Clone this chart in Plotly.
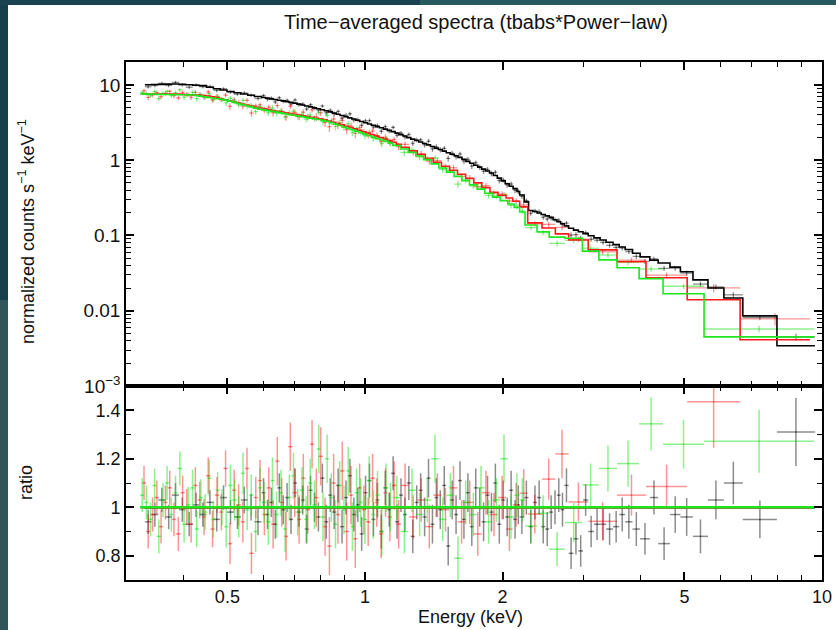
import numpy as np
import plotly.graph_objects as go

# ---------------- data ----------------
# black data group: bin edges (keV), model (counts/s/keV), data/model ratio, ratio error
edges_black = [0.330, 0.341, 0.353, 0.366, 0.378, 0.392, 0.405, 0.420, 0.434, 0.450,
               0.466, 0.482, 0.499, 0.517, 0.535, 0.554, 0.573,
               0.594, 0.606, 0.618, 0.630, 0.643, 0.656, 0.669, 0.682, 0.696, 0.710,
               0.724, 0.738, 0.753, 0.768, 0.783, 0.799, 0.815, 0.831, 0.848, 0.865,
               0.882, 0.900, 0.918, 0.936, 0.955, 0.974, 0.993, 1.013, 1.033, 1.054,
               1.075, 1.097, 1.119, 1.141, 1.164, 1.187, 1.211, 1.235, 1.260, 1.285,
               1.311, 1.337, 1.364, 1.391, 1.419, 1.447, 1.476, 1.506, 1.536, 1.567,
               1.598, 1.630, 1.663, 1.696, 1.730, 1.765, 1.800, 1.836, 1.873, 1.910,
               1.948, 1.987, 2.027, 2.068, 2.109, 2.151, 2.180,
               2.230, 2.280, 2.330, 2.380, 2.430, 2.480, 2.530, 2.580, 2.630, 2.680,
               2.730, 2.790, 2.860, 2.930, 3.000, 3.080, 3.170, 3.270, 3.370, 3.490,
               3.600, 3.710, 3.850, 4.000, 4.200, 4.380, 4.650, 4.900, 5.220, 5.630,
               6.100, 6.710, 7.970, 9.650]
model_black = [10.07, 10.13, 10.19, 10.26, 10.31, 10.19, 10.05, 9.92, 9.79, 9.35,
               8.92, 8.56, 8.18, 7.87, 7.59, 7.31, 7.03,
               6.82, 6.68, 6.54, 6.40, 6.27, 6.14, 6.01, 5.88, 5.74, 5.57,
               5.42, 5.26, 5.11, 4.97, 4.83, 4.69, 4.55, 4.39, 4.23, 4.08,
               3.93, 3.79, 3.66, 3.53, 3.40, 3.27, 3.15, 3.03, 2.91, 2.80,
               2.70, 2.59, 2.49, 2.40, 2.29, 2.19, 2.10, 2.00, 1.91, 1.83,
               1.75, 1.67, 1.60, 1.52, 1.45, 1.39, 1.32, 1.26, 1.20, 1.147,
               1.091, 1.027, 0.967, 0.912, 0.858, 0.809, 0.762, 0.718, 0.676, 0.628,
               0.578, 0.531, 0.488, 0.452, 0.419, 0.384,
               0.345, 0.280, 0.215, 0.208, 0.199, 0.190, 0.182, 0.174, 0.162, 0.152,
               0.143, 0.134, 0.125, 0.118, 0.112, 0.106, 0.099, 0.093, 0.087, 0.0813,
               0.0755, 0.0704, 0.065, 0.058, 0.052, 0.047, 0.043, 0.038, 0.033, 0.0257,
               0.0201, 0.0148, 0.00855, 0.00342]
ratio_black = [0.94, 0.97, 1.03, 0.96, 1.05, 0.99, 0.93, 1.01, 0.97, 1.02,
               0.95, 1.04, 0.98, 0.96, 1.03, 1.00, 0.94,
               1.06, 0.97, 1.02, 0.93, 1.08, 0.99, 1.04, 0.95, 1.10, 0.98,
               1.03, 0.91, 1.07, 1.00, 0.96, 1.12, 0.94, 1.05, 0.98, 1.09,
               0.92, 1.04, 1.13, 0.97, 1.01, 0.89, 1.06, 1.11, 0.95, 1.03,
               0.90, 1.08, 0.99, 1.14, 0.94, 1.05, 0.97, 1.10, 0.88, 1.02,
               1.07, 0.96, 1.12, 0.93, 1.04, 0.99, 1.09, 0.84, 1.03, 0.97,
               1.11, 0.95, 1.06, 0.92, 1.08, 1.00, 0.94, 1.05, 0.98, 1.10,
               0.93, 1.03, 0.96, 1.07, 0.95, 1.01,
               0.96, 1.04, 0.92, 1.02, 1.04, 0.92, 0.91, 0.98, 1.00, 1.05,
               0.99, 1.09, 0.81, 0.87, 0.82, 1.03, 0.90, 0.93, 0.93, 0.91,
               0.92, 0.97, 0.94, 0.91, 0.87, 1.04, 0.85, 0.97, 0.96, 0.88,
               1.03, 1.10, 0.95, 1.31]
rerr_black = [0.05, 0.05, 0.05, 0.05, 0.05, 0.05, 0.05, 0.05, 0.05, 0.05,
              0.05, 0.05, 0.05, 0.05, 0.055, 0.055, 0.055,
              0.06, 0.06, 0.06, 0.06, 0.06, 0.06, 0.06, 0.06, 0.06, 0.06,
              0.06, 0.06, 0.06, 0.06, 0.06, 0.06, 0.07, 0.07, 0.07, 0.07,
              0.07, 0.07, 0.07, 0.07, 0.07, 0.07, 0.07, 0.07, 0.07, 0.07,
              0.07, 0.07, 0.07, 0.07, 0.07, 0.07, 0.07, 0.07, 0.07, 0.07,
              0.07, 0.08, 0.08, 0.08, 0.08, 0.08, 0.08, 0.08, 0.08, 0.08,
              0.08, 0.08, 0.08, 0.08, 0.08, 0.08, 0.08, 0.08, 0.08, 0.08,
              0.08, 0.08, 0.08, 0.08, 0.08, 0.08,
              0.07, 0.07, 0.07, 0.07, 0.07, 0.07, 0.07, 0.07, 0.07, 0.07,
              0.07, 0.07, 0.065, 0.065, 0.065, 0.065, 0.065, 0.065, 0.065, 0.065,
              0.065, 0.07, 0.07, 0.07, 0.065, 0.07, 0.068, 0.075, 0.078, 0.07,
              0.08, 0.088, 0.078, 0.14]

# red data group
edges_red = [0.325, 0.332, 0.339, 0.347, 0.354, 0.362, 0.370, 0.378, 0.386, 0.395,
             0.403, 0.412, 0.421, 0.430, 0.440, 0.449, 0.459, 0.469, 0.480, 0.490,
             0.501, 0.512, 0.523, 0.535, 0.546, 0.558, 0.571, 0.583, 0.596, 0.609,
             0.623, 0.636, 0.650, 0.665, 0.679, 0.694, 0.710, 0.725, 0.741, 0.758,
             0.774, 0.791, 0.809, 0.827, 0.845, 0.863, 0.882, 0.902, 0.922, 0.942,
             0.963, 0.984, 1.005, 1.028, 1.050, 1.073, 1.097, 1.121, 1.146, 1.171,
             1.199, 1.249, 1.301, 1.355, 1.411, 1.470, 1.531, 1.594, 1.661, 1.730,
             1.802, 1.877, 1.955, 2.036, 2.105, 2.180, 2.270, 2.440, 2.610, 2.790,
             3.080, 3.560, 4.120, 5.070, 6.620, 9.410]
model_red = [7.60, 7.60, 7.60, 7.60, 7.60, 7.60, 7.60, 7.60, 7.57, 7.51,
             7.45, 7.39, 7.33, 7.27, 7.21, 7.15, 6.96, 6.74, 6.53, 6.33,
             6.13, 5.94, 5.75, 5.57, 5.40, 5.23, 5.06, 4.92, 4.81, 4.70,
             4.59, 4.48, 4.38, 4.28, 4.18, 4.08, 3.99, 3.89, 3.80, 3.71,
             3.62, 3.54, 3.45, 3.32, 3.20, 3.07, 2.95, 2.83, 2.72, 2.61,
             2.50, 2.39, 2.29, 2.18, 2.09, 1.995, 1.905, 1.82, 1.73, 1.63,
             1.49, 1.33, 1.19, 1.06, 0.94, 0.832, 0.736, 0.650, 0.572, 0.500,
             0.432, 0.376, 0.342, 0.315, 0.285, 0.240, 0.147, 0.126, 0.105, 0.0873,
             0.0644, 0.0447, 0.0274, 0.0140, 0.00411]
ratio_red = [1.10, 0.90, 0.97, 1.04, 0.92, 1.02, 1.08, 0.95, 0.89, 1.06,
             1.00, 0.93, 1.09, 1.03, 0.96, 1.13, 0.91, 1.05, 0.98, 1.16,
             0.85, 1.07, 1.01, 0.94, 1.16, 0.81, 1.04, 1.11, 0.97, 1.08,
             0.93, 1.19, 1.02, 0.88, 1.25, 1.06, 0.95, 1.12, 0.99, 1.26,
             1.04, 1.21, 0.92, 0.84, 1.10, 0.97, 1.15, 0.90, 1.05, 0.87,
             1.08, 0.99, 0.94, 1.12, 1.02, 0.89, 1.06, 0.96, 1.09, 0.93,
             1.09, 0.96, 1.03, 0.92, 1.05, 0.99, 1.08, 0.94, 1.02, 0.89,
             1.06, 0.97, 1.04, 0.91, 1.01, 1.058, 0.972, 1.116, 1.22, 1.022,
             0.942, 1.05, 1.086, 1.435, 1.90]
rerr_red = [0.07, 0.07, 0.07, 0.07, 0.07, 0.07, 0.07, 0.07, 0.07, 0.07,
            0.075, 0.075, 0.075, 0.075, 0.075, 0.075, 0.075, 0.075, 0.075, 0.075,
            0.085, 0.085, 0.085, 0.085, 0.085, 0.085, 0.085, 0.085, 0.085, 0.085,
            0.1, 0.1, 0.1, 0.1, 0.1, 0.1, 0.1, 0.1, 0.1, 0.1,
            0.12, 0.12, 0.12, 0.12, 0.12, 0.12, 0.12, 0.12, 0.12, 0.12,
            0.1, 0.1, 0.1, 0.1, 0.1, 0.1, 0.1, 0.1, 0.1, 0.1,
            0.09, 0.09, 0.09, 0.09, 0.09, 0.09, 0.09, 0.09, 0.09, 0.09,
            0.09, 0.09, 0.09, 0.09, 0.09, 0.1, 0.08, 0.085, 0.1, 0.08,
            0.08, 0.085, 0.09, 0.19, 0.35]

# green data group
edges_green = [0.322, 0.329, 0.336, 0.343, 0.350, 0.358, 0.365, 0.373, 0.381, 0.389,
               0.398, 0.406, 0.415, 0.424, 0.433, 0.442, 0.452, 0.461, 0.471, 0.481,
               0.492, 0.502, 0.513, 0.524, 0.535, 0.547, 0.558, 0.570, 0.583, 0.595,
               0.608, 0.621, 0.634, 0.648, 0.662, 0.676, 0.690, 0.705, 0.720, 0.736,
               0.751, 0.767, 0.784, 0.801, 0.818, 0.835, 0.853, 0.871, 0.890, 0.909,
               0.929, 0.948, 0.969, 0.989, 1.011, 1.032, 1.054, 1.077, 1.100, 1.124,
               1.151, 1.196, 1.243, 1.292, 1.343, 1.396, 1.451, 1.508, 1.567, 1.629,
               1.693, 1.760, 1.829, 1.901, 1.976, 2.054, 2.120, 2.180, 2.240, 2.380,
               2.530, 2.740, 2.990, 3.250, 3.560, 3.980, 4.490, 5.520, 9.610]
model_green = [7.59, 7.57, 7.55, 7.53, 7.51, 7.50, 7.48, 7.46, 7.44, 7.42,
               7.41, 7.39, 7.37, 7.24, 7.10, 6.96, 6.82, 6.70, 6.57, 6.44,
               6.30, 6.09, 5.87, 5.68, 5.48, 5.29, 5.11, 4.93, 4.77, 4.67,
               4.56, 4.46, 4.36, 4.26, 4.16, 4.07, 3.98, 3.89, 3.80, 3.71,
               3.63, 3.55, 3.47, 3.39, 3.29, 3.16, 3.02, 2.89, 2.77, 2.65,
               2.54, 2.43, 2.33, 2.22, 2.12, 2.03, 1.94, 1.86, 1.78, 1.69,
               1.57, 1.41, 1.27, 1.14, 1.02, 0.895, 0.79, 0.695, 0.61, 0.536,
               0.47, 0.413, 0.364, 0.323, 0.291, 0.262, 0.235, 0.205, 0.138, 0.112,
               0.095, 0.092, 0.062, 0.0474, 0.0372, 0.0267, 0.0168, 0.0045]
ratio_green = [1.05, 1.02, 0.95, 1.09, 0.88, 1.03, 1.10, 0.97, 1.06, 1.16,
               0.93, 1.01, 1.08, 0.91, 1.04, 0.98, 1.12, 0.95, 1.07, 1.00,
               0.92, 1.09, 1.03, 0.96, 1.14, 0.99, 1.05, 0.90, 1.08, 1.02,
               0.94, 1.11, 0.97, 1.06, 0.91, 1.04, 1.13, 0.98, 1.07, 0.95,
               1.10, 1.01, 1.24, 0.96, 1.20, 1.04, 0.93, 1.09, 0.99, 1.15,
               0.92, 1.06, 1.02, 0.95, 1.11, 0.97, 1.05, 0.90, 1.08, 1.00,
               1.04, 0.90, 1.07, 0.97, 1.03, 1.20, 0.95, 1.05, 0.79, 1.02,
               0.97, 1.08, 0.94, 1.03, 1.20, 0.96, 1.05, 1.03, 0.923, 0.975,
               0.827, 0.937, 1.092, 1.16, 1.18, 1.344, 1.26, 1.272]
rerr_green = [0.07, 0.07, 0.07, 0.07, 0.07, 0.07, 0.07, 0.07, 0.07, 0.07,
              0.075, 0.075, 0.075, 0.075, 0.075, 0.075, 0.075, 0.075, 0.075, 0.075,
              0.085, 0.085, 0.085, 0.085, 0.085, 0.085, 0.085, 0.085, 0.085, 0.085,
              0.095, 0.095, 0.095, 0.095, 0.095, 0.095, 0.095, 0.095, 0.095, 0.095,
              0.1, 0.1, 0.1, 0.1, 0.1, 0.1, 0.1, 0.1, 0.1, 0.1,
              0.1, 0.1, 0.1, 0.1, 0.1, 0.1, 0.1, 0.1, 0.1, 0.1,
              0.09, 0.09, 0.09, 0.09, 0.09, 0.1, 0.09, 0.09, 0.09, 0.09,
              0.09, 0.09, 0.09, 0.09, 0.1, 0.09, 0.09, 0.09, 0.07, 0.075,
              0.07, 0.08, 0.088, 0.095, 0.095, 0.11, 0.1, 0.13]

# axis ticks / labels
x_major = [0.5, 1, 2, 5, 10]
x_major_text = ["0.5", "1", "2", "5", "10"]
x_minor = [0.4, 0.6, 0.7, 0.8, 0.9, 3, 4, 6, 7, 8, 9]
y_major = [0.001, 0.01, 0.1, 1, 10]
y_major_text = ["10<sup>\u22123</sup>", "0.01", "0.1", "1", "10"]
y_minor = [0.002, 0.003, 0.004, 0.005, 0.006, 0.007, 0.008, 0.009,
           0.02, 0.03, 0.04, 0.05, 0.06, 0.07, 0.08, 0.09,
           0.2, 0.3, 0.4, 0.5, 0.6, 0.7, 0.8, 0.9,
           2, 3, 4, 5, 6, 7, 8, 9, 20]
r_major = [0.8, 1.0, 1.2, 1.4]
r_major_text = ["0.8", "1", "1.2", "1.4"]
r_minor = [0.9, 1.1, 1.3]

title_text = "Time\u2212averaged spectra (tbabs*Power\u2212law)"
ytitle_top = "normalized counts s<sup>\u22121</sup> keV<sup>\u22121</sup>"
ytitle_bot = "ratio"
xtitle = "Energy (keV)"

series = [
    ("black", edges_black, model_black, ratio_black, rerr_black,
     "rgba(0,0,0,0.45)", "#000000"),
    ("red", edges_red, model_red, ratio_red, rerr_red,
     "rgba(255,0,0,0.42)", "#ff1a1a"),
    ("green", edges_green, model_green, ratio_green, rerr_green,
     "rgba(0,225,0,0.45)", "#1ee61e"),
]

FONT = "Liberation Sans, Arial, Helvetica, sans-serif"
fig = go.Figure()

# data points (top and ratio panels)
for name, edges, model, ratio, rerr, ecol, lcol in series:
    assert len(edges) == len(model) + 1, (name, len(edges), len(model))
    assert len(model) == len(ratio) == len(rerr), (name, len(model), len(ratio), len(rerr))
    e = np.array(edges)
    lo, hi = e[:-1], e[1:]
    c = np.sqrt(lo * hi)
    m = np.array(model)
    r = np.array(ratio)
    re = np.array(rerr)
    fig.add_trace(go.Scatter(
        x=c, y=m * r, mode="markers", xaxis="x2", yaxis="y",
        marker=dict(size=1, color=ecol),
        error_x=dict(type="data", symmetric=False, array=hi - c, arrayminus=c - lo,
                     color=ecol, thickness=1.3, width=0),
        error_y=dict(type="data", array=m * re, color=ecol, thickness=1.3, width=0),
        showlegend=False, hoverinfo="skip"))
    fig.add_trace(go.Scatter(
        x=c, y=r, mode="markers", xaxis="x", yaxis="y2",
        marker=dict(size=1, color=ecol),
        error_x=dict(type="data", symmetric=False, array=hi - c, arrayminus=c - lo,
                     color=ecol, thickness=1.5, width=0),
        error_y=dict(type="data", array=re, color=ecol, thickness=1.5, width=0),
        showlegend=False, hoverinfo="skip"))

# model step lines and unity lines
for name, edges, model, ratio, rerr, ecol, lcol in series:
    fig.add_trace(go.Scatter(
        x=edges, y=list(model) + [model[-1]], mode="lines", line_shape="hv",
        line=dict(color=lcol, width=1.6), xaxis="x2", yaxis="y",
        showlegend=False, hoverinfo="skip"))
    fig.add_trace(go.Scatter(
        x=[edges[0], edges[-1]], y=[1.0, 1.0], mode="lines",
        line=dict(color=lcol, width=2.6), xaxis="x", yaxis="y2",
        showlegend=False, hoverinfo="skip"))

L, R, T, B = 126, 14, 62, 50
W, H = 836, 630
PW, PH = W - L - R, H - T - B
split = (PH - (386 - T)) / PH  # bottom panel fraction


def px2paper_x(px):
    return (px - L) / PW


def px2paper_y(py):
    return (H - B - py) / PH


common_axis = dict(showline=True, linecolor="black", linewidth=1.6, mirror="allticks",
                   ticks="inside", tickcolor="black", tickwidth=1.5, showgrid=False,
                   zeroline=False, automargin=False,
                   tickfont=dict(family=FONT, size=18, color="#111"))

xax = dict(common_axis, type="log", range=[np.log10(0.3), 1.0],
           tickmode="array", tickvals=x_major, ticktext=x_major_text, ticklen=8,
           minor=dict(tickmode="array", tickvals=x_minor, ticks="inside", ticklen=5,
                      tickcolor="black", tickwidth=1.3))

fig.update_layout(
    width=W, height=H, autosize=False,
    margin=dict(l=L, r=R, t=T, b=B, pad=0, autoexpand=False),
    paper_bgcolor="white", plot_bgcolor="white",
    font=dict(family=FONT, color="#111"),
    xaxis=dict(xax, domain=[0, 1], anchor="y2"),
    xaxis2=dict(xax, domain=[0, 1], anchor="y", matches="x", showticklabels=False),
    yaxis=dict(common_axis, type="log", domain=[split, 1], anchor="x2",
               range=[-3, np.log10(20.2)], tickmode="array", tickvals=y_major,
               ticktext=y_major_text, ticklen=8,
               tickfont=dict(family=FONT, size=19, color="#111"),
               minor=dict(tickmode="array", tickvals=y_minor, ticks="inside", ticklen=5,
                          tickcolor="black", tickwidth=1.3)),
    yaxis2=dict(common_axis, domain=[0, split], anchor="x", range=[0.7, 1.5],
                tickmode="array", tickvals=r_major, ticktext=r_major_text, ticklen=8,
                minor=dict(tickmode="array", tickvals=r_minor, ticks="inside", ticklen=5,
                           tickcolor="black", tickwidth=1.3)),
    annotations=[
        dict(text=title_text, x=px2paper_x(476), y=px2paper_y(22), xref="paper", yref="paper",
             showarrow=False, xanchor="center", yanchor="middle",
             font=dict(family=FONT, size=20, color="#111")),
        dict(text=ytitle_top, x=px2paper_x(26), y=px2paper_y(232), xref="paper", yref="paper",
             showarrow=False, xanchor="center", yanchor="middle", textangle=-90,
             font=dict(family=FONT, size=18, color="#111")),
        dict(text=ytitle_bot, x=px2paper_x(26), y=px2paper_y(483), xref="paper", yref="paper",
             showarrow=False, xanchor="center", yanchor="middle", textangle=-90,
             font=dict(family=FONT, size=18, color="#111")),
        dict(text=xtitle, x=px2paper_x(470), y=px2paper_y(617), xref="paper", yref="paper",
             showarrow=False, xanchor="center", yanchor="middle",
             font=dict(family=FONT, size=18, color="#111")),
    ],
    shapes=[
        dict(type="rect", xref="paper", yref="paper", layer="above", line=dict(width=0),
             x0=px2paper_x(0), x1=px2paper_x(8), y0=px2paper_y(630), y1=px2paper_y(300),
             fillcolor="#2f555b"),
        dict(type="rect", xref="paper", yref="paper", layer="above", line=dict(width=0),
             x0=px2paper_x(0), x1=px2paper_x(8), y0=px2paper_y(300), y1=px2paper_y(0),
             fillcolor="#183f4d"),
        dict(type="rect", xref="paper", yref="paper", layer="above", line=dict(width=0),
             x0=px2paper_x(0), x1=px2paper_x(420), y0=px2paper_y(5), y1=px2paper_y(0),
             fillcolor="#1a4451"),
        dict(type="rect", xref="paper", yref="paper", layer="above", line=dict(width=0),
             x0=px2paper_x(420), x1=px2paper_x(836), y0=px2paper_y(5), y1=px2paper_y(0),
             fillcolor="#275a5c"),
    ],
)

fig.write_html(
    "out.html",
    config=dict(displayModeBar=False, responsive=False),
    default_width="836px", default_height="630px",
    post_script=("document.documentElement.style.overflow='hidden';"
                 "document.body.style.margin='0';document.body.style.overflow='hidden';"
                 "Plotly.relayout('{plot_id}', {width: 836, height: 630});"),
)
